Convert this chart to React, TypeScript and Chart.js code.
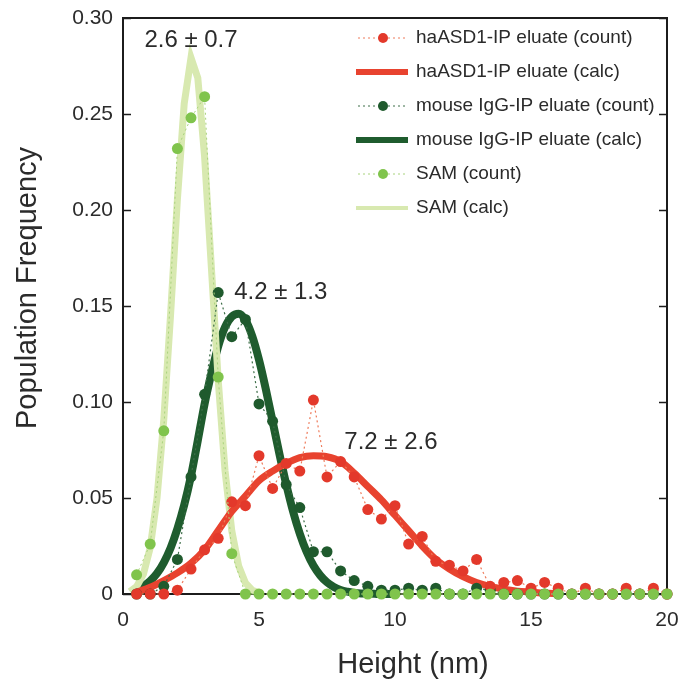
import React, { useEffect, useRef } from 'react';
import { Chart, registerables } from 'chart.js';

Chart.register(...registerables);

const FONT = "'Liberation Sans', Arial, Helvetica, sans-serif";

// Histogram bin centres (nm)
const heights = [0.5, 1, 1.5, 2, 2.5, 3, 3.5, 4, 4.5, 5, 5.5, 6, 6.5, 7, 7.5, 8, 8.5, 9, 9.5, 10,
  10.5, 11, 11.5, 12, 12.5, 13, 13.5, 14, 14.5, 15, 15.5, 16, 16.5, 17, 17.5, 18, 18.5, 19, 19.5, 20];

// Counted population frequencies
const samCount = [0.010, 0.026, 0.085, 0.232, 0.248, 0.259, 0.113, 0.021, 0, 0,
  0, 0, 0, 0, 0, 0, 0, 0, 0, 0,
  0, 0, 0, 0, 0, 0, 0, 0, 0, 0,
  0, 0, 0, 0, 0, 0, 0, 0, 0, 0];
const igCount = [0, 0, 0.004, 0.018, 0.061, 0.104, 0.157, 0.134, 0.143, 0.099,
  0.090, 0.057, 0.045, 0.022, 0.022, 0.012, 0.007, 0.004, 0.002, 0.002,
  0.003, 0.002, 0.003, 0, 0, 0.003, 0.002, 0, 0, 0,
  0, 0, 0, 0, 0, 0, 0, 0, 0, 0];
const asdCount = [0, 0, 0, 0.002, 0.013, 0.023, 0.029, 0.048, 0.046, 0.072,
  0.055, 0.068, 0.064, 0.101, 0.061, 0.069, 0.061, 0.044, 0.039, 0.046,
  0.026, 0.030, 0.017, 0.015, 0.012, 0.018, 0.004, 0.006, 0.007, 0.003,
  0.006, 0.003, 0, 0.003, 0, 0, 0.003, 0, 0.003, 0];

// Fitted (calc) curves
const samCalcX = [0.25, 0.5, 0.75, 1, 1.25, 1.5, 1.75, 2, 2.25, 2.5, 2.75, 3, 3.25, 3.5, 3.75, 4, 4.25, 4.5, 4.75, 5];
const samCalcY = [0.0013, 0.0038, 0.0103, 0.0241, 0.0499, 0.0909, 0.1457, 0.2056, 0.2554, 0.2793,
  0.2688, 0.2277, 0.1698, 0.1115, 0.0644, 0.0328, 0.0147, 0.0058, 0.0020, 0.0006];

const igCalcX = [0.5, 0.75, 1, 1.25, 1.5, 1.75, 2, 2.25, 2.5, 2.75, 3, 3.25, 3.5, 3.75, 4, 4.25, 4.5, 4.75, 5, 5.25,
  5.5, 5.75, 6, 6.25, 6.5, 6.75, 7, 7.25, 7.5, 7.75, 8, 8.25, 8.5, 8.75, 9, 9.25, 9.5, 9.75, 10];
const igCalcY = [0.0024, 0.0041, 0.0068, 0.0107, 0.0164, 0.0240, 0.0340, 0.0463, 0.0615, 0.0800,
  0.0990, 0.1150, 0.1290, 0.1390, 0.1445, 0.1460, 0.1427, 0.1344, 0.1220, 0.1067,
  0.0899, 0.0730, 0.0572, 0.0431, 0.0314, 0.0220, 0.0148, 0.0097, 0.0061, 0.0037,
  0.0021, 0.0012, 0.0006, 0.0003, 0.0002, 0.0001, 0, 0, 0];

const asdCalcX = [0.5, 1, 1.5, 2, 2.5, 3, 3.5, 4, 4.5, 5, 5.5, 6, 6.5, 7, 7.5, 8,
  8.5, 9, 9.5, 10, 10.5, 11, 11.5, 12, 12.5, 13, 13.5, 14, 14.5, 15, 15.5, 16];
const asdCalcY = [0.001, 0.0035, 0.007, 0.011, 0.016, 0.023, 0.033, 0.043, 0.051, 0.059, 0.064, 0.068, 0.071, 0.072, 0.0715, 0.069,
  0.063, 0.056, 0.049, 0.041, 0.033, 0.025, 0.018, 0.013, 0.009, 0.006, 0.004, 0.0025, 0.0015, 0.001, 0.0005, 0.0002];

const xTickLabels = ['0', '5', '10', '15', '20'];
const yTickLabels = ['0', '0.05', '0.10', '0.15', '0.20', '0.25', '0.30'];
const xTitle = 'Height (nm)';
const yTitle = 'Population Frequency';

const legendLabels = [
  'haASD1-IP eluate (count)',
  'haASD1-IP eluate (calc)',
  'mouse IgG-IP eluate (count)',
  'mouse IgG-IP eluate (calc)',
  'SAM (count)',
  'SAM (calc)',
];

const fitLabels = ['2.6 ± 0.7', '4.2 ± 1.3', '7.2 ± 2.6'];
const fitLabelAnchorX = [2.5, 5.8, 9.85];
const fitLabelAnchorY = [0.2885, 0.157, 0.079];

const RED = '#e3392b';
const RED_LINE = '#e8432f';
const RED_DASH = '#ee7a5a';
const DG = '#1f5a2d';
const DG_LINE = '#1f5c2e';
const DG_DASH = '#3d6e48';
const LG = '#80c44c';
const LG_LINE = '#d8e9b0';
const LG_DASH = '#a8d37c';
const TEXT = '#2b2b2b';

const legendStyles = [
  { kind: 'count', color: RED, dash: RED_DASH },
  { kind: 'calc', color: RED_LINE, width: 6 },
  { kind: 'count', color: DG, dash: DG_DASH },
  { kind: 'calc', color: DG_LINE, width: 6 },
  { kind: 'count', color: LG, dash: LG_DASH },
  { kind: 'calc', color: LG_LINE, width: 4 },
];

const pts = (xs: number[], ys: number[]) => xs.map((x, i) => ({ x, y: ys[i] }));

const decorPlugin = {
  id: 'decor',
  beforeDatasetsDraw(chart: any) {
    const { ctx, chartArea: a, scales } = chart;
    ctx.save();
    ctx.strokeStyle = '#1c1c1c';
    ctx.lineWidth = 2;
    ctx.strokeRect(a.left, a.top, a.right - a.left, a.bottom - a.top);
    ctx.lineWidth = 1.5;
    const ys = scales.y;
    ys.ticks.forEach((t: any) => {
      const py = Math.round(ys.getPixelForValue(t.value)) + 0.5;
      ctx.beginPath();
      ctx.moveTo(a.left, py);
      ctx.lineTo(a.left + 8, py);
      ctx.moveTo(a.right, py);
      ctx.lineTo(a.right - 8, py);
      ctx.stroke();
    });
    // axis titles
    ctx.fillStyle = TEXT;
    ctx.font = `29px ${FONT}`;
    ctx.textAlign = 'center';
    ctx.textBaseline = 'middle';
    ctx.fillText(xTitle, (a.left + a.right) / 2 + 18, a.bottom + 71);
    ctx.translate(28, (a.top + a.bottom) / 2 - 18);
    ctx.rotate(-Math.PI / 2);
    ctx.fillText(yTitle, 0, 0);
    ctx.restore();
  },
  afterDraw(chart: any) {
    const { ctx, chartArea: a, scales } = chart;
    ctx.save();
    // legend
    const x0 = a.right - 309;
    const x1 = a.right - 259;
    const tx = a.right - 251;
    const y0 = a.top + 20;
    const step = 34;
    ctx.font = `19px ${FONT}`;
    ctx.textBaseline = 'middle';
    ctx.textAlign = 'left';
    legendLabels.forEach((label, i) => {
      const st: any = legendStyles[i];
      const y = y0 + i * step;
      if (st.kind === 'count') {
        ctx.strokeStyle = st.dash;
        ctx.lineWidth = 1;
        ctx.setLineDash([2, 3]);
        ctx.beginPath();
        ctx.moveTo(x0, y);
        ctx.lineTo(x1, y);
        ctx.stroke();
        ctx.setLineDash([]);
        ctx.fillStyle = st.color;
        ctx.beginPath();
        ctx.arc((x0 + x1) / 2, y, 5, 0, Math.PI * 2);
        ctx.fill();
      } else {
        ctx.strokeStyle = st.color;
        ctx.lineWidth = st.width;
        ctx.beginPath();
        ctx.moveTo(x0 - 2, y);
        ctx.lineTo(x1, y);
        ctx.stroke();
      }
      ctx.fillStyle = TEXT;
      ctx.fillText(label, tx, y);
    });
    // fit annotations
    ctx.font = `24px ${FONT}`;
    ctx.textAlign = 'center';
    ctx.fillStyle = TEXT;
    fitLabels.forEach((t, i) => {
      ctx.fillText(t, scales.x.getPixelForValue(fitLabelAnchorX[i]), scales.y.getPixelForValue(fitLabelAnchorY[i]));
    });
    ctx.restore();
  },
};

export default function App() {
  const ref = useRef<HTMLCanvasElement>(null);
  useEffect(() => {
    document.body.style.margin = '0';
    Chart.defaults.font.family = FONT;
    const chart = new Chart(ref.current as HTMLCanvasElement, {
      type: 'line',
      data: {
        datasets: [
          {
            label: legendLabels[4], data: pts(heights, samCount), borderColor: LG_DASH, borderWidth: 1,
            borderDash: [2, 3], pointRadius: 5.5, pointBackgroundColor: LG, pointBorderWidth: 0, clip: false,
          },
          {
            label: legendLabels[0], data: pts(heights, asdCount), borderColor: RED_DASH, borderWidth: 1.2,
            borderDash: [2, 3], pointRadius: 5.5, pointBackgroundColor: RED, pointBorderWidth: 0, clip: false,
          },
          {
            label: legendLabels[2], data: pts(heights, igCount), borderColor: DG_DASH, borderWidth: 1.2,
            borderDash: [2, 3], pointRadius: 5.5, pointBackgroundColor: DG, pointBorderWidth: 0, clip: false,
          },
          {
            label: legendLabels[1], data: pts(asdCalcX, asdCalcY), borderColor: RED_LINE, borderWidth: 7,
            pointRadius: 0, cubicInterpolationMode: 'monotone', clip: false,
          },
          {
            label: legendLabels[5], data: pts(samCalcX, samCalcY), borderColor: LG_LINE, borderWidth: 7,
            pointRadius: 0, clip: false,
          },
          {
            label: legendLabels[3], data: pts(igCalcX, igCalcY), borderColor: DG_LINE, borderWidth: 8,
            pointRadius: 0, cubicInterpolationMode: 'monotone', clip: false,
          },
        ] as any,
      },
      options: {
        responsive: false,
        animation: false,
        layout: { padding: 0 },
        plugins: { legend: { display: false }, tooltip: { enabled: false } },
        scales: {
          x: {
            type: 'linear', min: 0, max: 20,
            afterFit: (s: any) => { s.height = 92; s.paddingLeft = 0; s.paddingRight = 13; },
            grid: { display: false, drawTicks: false },
            border: { display: false },
            ticks: {
              stepSize: 5, padding: 14, autoSkip: false, maxRotation: 0,
              font: { size: 21, family: FONT }, color: TEXT,
              callback: (_v: any, i: number) => xTickLabels[i],
            },
            title: { display: false, text: xTitle },
          },
          y: {
            type: 'linear', min: 0, max: 0.3,
            afterFit: (s: any) => { s.width = 123; s.paddingTop = 18; s.paddingBottom = 0; },
            grid: { display: false, drawTicks: false },
            border: { display: false },
            ticks: {
              stepSize: 0.05, padding: 10, autoSkip: false,
              font: { size: 21, family: FONT }, color: TEXT,
              callback: (_v: any, i: number) => yTickLabels[i],
            },
            title: { display: false, text: yTitle },
          },
        },
      } as any,
      plugins: [decorPlugin],
    });
    return () => chart.destroy();
  }, []);
  return (
    <div style={{ width: 680, height: 686, background: '#fff' }}>
      <canvas ref={ref} width={680} height={686} style={{ display: 'block' }} />
    </div>
  );
}
